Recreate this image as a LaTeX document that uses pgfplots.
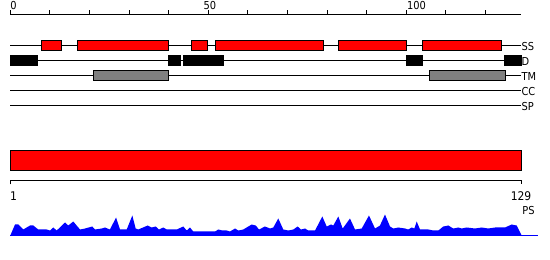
\documentclass[border=0pt]{standalone}
\usepackage{pgfplots}
\pgfplotsset{compat=1.18}
\usepackage{fontspec}
\setmainfont{DejaVu Sans Condensed}
\definecolor{tmgray}{RGB}{128,128,128}
\begin{document}
\begin{tikzpicture}
\useasboundingbox (0,0) rectangle (550bp,260bp);
\begin{axis}[at={(0,0)}, anchor=south west, scale only axis,
  width=550bp, height=260bp,
  xmin=-2.6016, xmax=136.32, ymin=0, ymax=260,
  hide axis, clip=false, line width=1bp]
% ---- top ruler (residue scale 0..129) ----
\addplot[black, line width=1bp] coordinates {(0,245.5) (129,245.5)};
\addplot[black, line width=1bp, unbounded coords=jump] coordinates {
 (0,245.5) (0,249.5) (nan,nan) (10,245.5) (10,249.5) (nan,nan)
 (20,245.5) (20,249.5) (nan,nan) (30,245.5) (30,249.5) (nan,nan)
 (40,245.5) (40,249.5) (nan,nan) (50,245.5) (50,249.5) (nan,nan)
 (60,245.5) (60,249.5) (nan,nan) (70,245.5) (70,249.5) (nan,nan)
 (80,245.5) (80,249.5) (nan,nan) (90,245.5) (90,249.5) (nan,nan)
 (100,245.5) (100,249.5) (nan,nan) (110,245.5) (110,249.5) (nan,nan)
 (120,245.5) (120,249.5)};
\node[anchor=base, font=\fontsize{11}{13}\selectfont, inner sep=0pt] at (axis cs:0.8,251) {0};
\node[anchor=base, font=\fontsize{11}{13}\selectfont, inner sep=0pt] at (axis cs:50.4,251) {50};
\node[anchor=base, font=\fontsize{11}{13}\selectfont, inner sep=0pt] at (axis cs:102.6,251) {100};
% ---- track base lines ----
\addplot[black, line width=1bp] coordinates {(0,214.7) (129,214.7)};
\addplot[black, line width=1bp] coordinates {(0,199.7) (129,199.7)};
\addplot[black, line width=1bp] coordinates {(0,184.7) (129,184.7)};
\addplot[black, line width=1bp] coordinates {(0,169.7) (129,169.7)};
\addplot[black, line width=1bp] coordinates {(0,154.7) (129,154.7)};
% ---- SS segments ----
\addplot[fill=red, draw=black, line width=1bp] coordinates {(7.8,209.7) (12.9,209.7) (12.9,219.7) (7.8,219.7)} -- cycle;
\addplot[fill=red, draw=black, line width=1bp] coordinates {(16.9,209.7) (40,209.7) (40,219.7) (16.9,219.7)} -- cycle;
\addplot[fill=red, draw=black, line width=1bp] coordinates {(45.8,209.7) (49.9,209.7) (49.9,219.7) (45.8,219.7)} -- cycle;
\addplot[fill=red, draw=black, line width=1bp] coordinates {(51.8,209.7) (79,209.7) (79,219.7) (51.8,219.7)} -- cycle;
\addplot[fill=red, draw=black, line width=1bp] coordinates {(83,209.7) (100,209.7) (100,219.7) (83,219.7)} -- cycle;
\addplot[fill=red, draw=black, line width=1bp] coordinates {(104,209.7) (124.1,209.7) (124.1,219.7) (104,219.7)} -- cycle;
% ---- D segments ----
\addplot[fill=black, draw=black, line width=1bp] coordinates {(0,194.7) (6.9,194.7) (6.9,204.7) (0,204.7)} -- cycle;
\addplot[fill=black, draw=black, line width=1bp] coordinates {(40,194.7) (43.1,194.7) (43.1,204.7) (40,204.7)} -- cycle;
\addplot[fill=black, draw=black, line width=1bp] coordinates {(43.7,194.7) (53.9,194.7) (53.9,204.7) (43.7,204.7)} -- cycle;
\addplot[fill=black, draw=black, line width=1bp] coordinates {(100,194.7) (104.1,194.7) (104.1,204.7) (100,204.7)} -- cycle;
\addplot[fill=black, draw=black, line width=1bp] coordinates {(124.9,194.7) (129,194.7) (129,204.7) (124.9,204.7)} -- cycle;
% ---- TM segments ----
\addplot[fill=tmgray, draw=black, line width=1bp] coordinates {(21,179.7) (40,179.7) (40,189.7) (21,189.7)} -- cycle;
\addplot[fill=tmgray, draw=black, line width=1bp] coordinates {(106,179.7) (125,179.7) (125,189.7) (106,189.7)} -- cycle;
% ---- track labels ----
\node[anchor=west, font=\fontsize{11}{13}\selectfont, inner sep=0pt] at (axis cs:129,213.2) {SS};
\node[anchor=west, font=\fontsize{11}{13}\selectfont, inner sep=0pt] at (axis cs:129,198.2) {D};
\node[anchor=west, font=\fontsize{11}{13}\selectfont, inner sep=0pt] at (axis cs:129,183.2) {TM};
\node[anchor=west, font=\fontsize{11}{13}\selectfont, inner sep=0pt] at (axis cs:129,168.2) {CC};
\node[anchor=west, font=\fontsize{11}{13}\selectfont, inner sep=0pt] at (axis cs:129,153.2) {SP};
% ---- full-length bar ----
\addplot[fill=red, draw=black, line width=1bp] coordinates {(0,89.7) (129,89.7) (129,109.7) (0,109.7)} -- cycle;
% ---- bottom ruler ----
\addplot[black, line width=1bp] coordinates {(0,75.5) (0,79.5) (129,79.5) (129,75.5)};
\node[anchor=base west, font=\fontsize{12}{14}\selectfont, inner sep=0pt] at (axis cs:-0.2,60) {1};
\node[anchor=base, font=\fontsize{12}{14}\selectfont, inner sep=0pt] at (axis cs:129,60) {129};
\node[anchor=base west, font=\fontsize{11}{13}\selectfont, inner sep=0pt] at (axis cs:129.2,45.5) {PS};
% ---- profile ----
\addplot[fill=blue, draw=none] table[x=u, y expr=\thisrow{h}+24.5] {
u h
0 0
1.19 11
2.02 11
3.28 6
4.98 10
5.81 10
7.07 6
9.19 6
10.03 5
10.86 8
11.72 5
13.82 13
14.65 10
15.91 14
17.61 6
18.87 7
20.71 9
21.39 6
23.09 7
23.92 8
25.18 6
26.70 18
27.71 6
29.40 6
30.82 20
31.67 7
32.33 6
34.71 10
35.72 8
36.73 9
37.56 6
38.65 8
39.50 6
42.03 6
43.70 9
44.56 5
45.39 8
46.22 4
51.71 4
52.54 6
53.55 5
54.66 5
55.49 4
56.76 7
57.59 5
58.85 6
60.97 11
61.99 10
62.82 6
64.33 9
65.60 7
66.43 8
67.69 17
68.96 6
70.22 5
71.48 6
72.59 9
73.43 6
74.44 7
75.27 5
76.97 5
78.81 19
79.92 9
81.01 11
81.59 10
82.85 19
83.96 7
85.80 17
87.07 6
88.76 7
90.60 20
92.12 7
93.38 10
94.64 21
95.91 9
96.74 7
98.00 8
99.70 7
100.53 6
101.39 8
102.05 7
102.65 14
103.49 6
105.58 6
106.85 5
108.11 5
109.37 9
110.64 10
111.90 7
113.16 8
114.02 7
115.28 8
117.38 7
119.07 8
120.74 7
122.43 8
124.95 8
126.64 11
127.91 10
129.17 0
} -- cycle;
\addplot[blue, line width=1bp] coordinates {(0,24.5) (133.3,24.5)};
\end{axis}
\end{tikzpicture}
\end{document}
